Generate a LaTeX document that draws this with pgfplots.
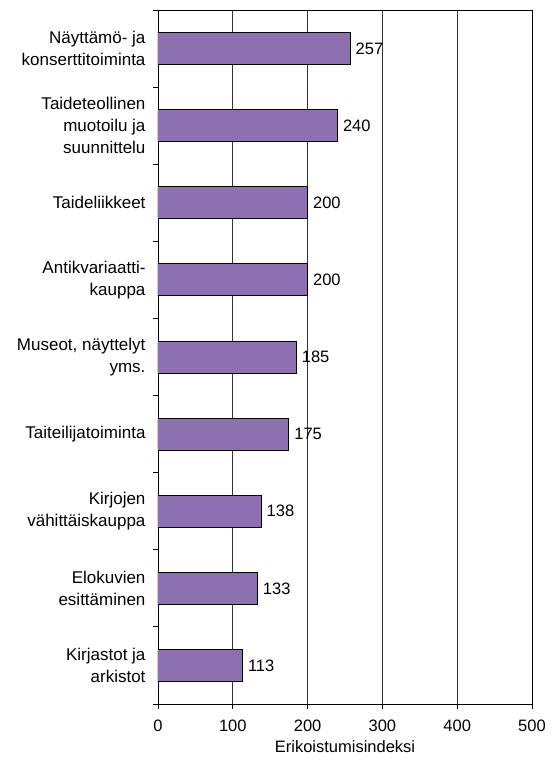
\documentclass[border=0pt]{standalone}
\usepackage{pgfplots}
\pgfplotsset{compat=1.18}
\usepackage{fontspec}
\setmainfont{Liberation Sans}
\definecolor{barpurple}{RGB}{140,112,176}
\begin{document}
\begin{tikzpicture}
\begin{axis}[
  at={(0pt,0pt)}, anchor=south west,
  scale only axis,
  width=374pt, height=694pt,
  xbar, bar width=32pt,
  xmin=0, xmax=500,
  ymin=-0.5, ymax=8.5,
  y dir=reverse,
  xtick={0,100,...,500},
  ytick={0,...,8},
  yticklabels={{Näyttämö- ja\\konserttitoiminta},{Taideteollinen\\muotoilu ja\\suunnittelu},{Taideliikkeet},{Antikvariaatti-\\kauppa},{Museot, näyttelyt\\yms.},{Taiteilijatoiminta},{Kirjojen\\vähittäiskauppa},{Elokuvien\\esittäminen},{Kirjastot ja\\arkistot}},
  yticklabel style={align=right, font=\fontsize{17}{22}\selectfont, xshift=-4pt},
  xticklabel style={font=\fontsize{16.5}{20}\selectfont, yshift=-7pt},
  minor ytick={-0.5,0.5,...,8.5},
  major y tick style={draw=none},
  minor tick length=5pt,
  major tick length=5pt,
  tick align=outside,
  tick pos=left,
  xmajorgrids,
  grid style={black!80, line width=0.8pt},
  axis line style={black, line width=0.9pt},
  tick style={black, line width=0.8pt},
  /pgf/number format/assume math mode=true,
  xlabel={Erikoistumisindeksi},
  xlabel style={font=\fontsize{16.5}{20}\selectfont, yshift=-2pt},
  nodes near coords,
  nodes near coords style={anchor=west, font=\fontsize{16.5}{20}\selectfont, inner sep=5pt, black},
]
\addplot[fill=barpurple, draw=black, line width=1pt] coordinates {(257,0) (240,1) (200,2) (200,3) (185,4) (175,5) (138,6) (133,7) (113,8)};
\end{axis}
\pgfresetboundingbox
\path[use as bounding box] (-158pt,-56pt) rectangle (399pt,704pt);
\end{tikzpicture}
\end{document}
